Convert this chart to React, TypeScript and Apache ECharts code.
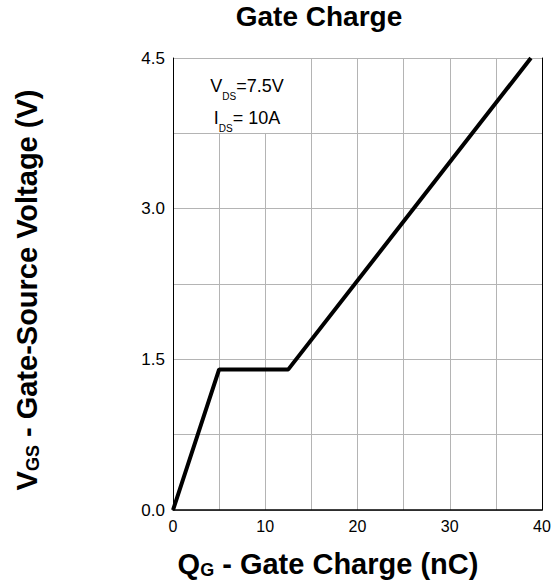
import React, { useEffect, useRef } from "react";
import * as echarts from "echarts";

const chargeNC: number[] = [0, 5, 12.5, 38.8];
const gateVolts: number[] = [0, 1.4, 1.4, 4.5];
const xTickLabels: number[] = [0, 10, 20, 30, 40];
const yTickLabels: number[] = [0, 1.5, 3.0, 4.5];

const FONT = "'Liberation Sans', Arial, Helvetica, sans-serif";

export default function App() {
  const ref = useRef<HTMLDivElement>(null);
  useEffect(() => {
    if (!ref.current) return;
    const chart = echarts.init(ref.current, undefined, { renderer: "svg" });
    const points = chargeNC.map((x, i) => [x, gateVolts[i]]);
    chart.setOption({
      animation: false,
      backgroundColor: "#ffffff",
      textStyle: { fontFamily: FONT },
      grid: { left: 173, right: 13, top: 58, bottom: 72, containLabel: false },
      xAxis: {
        type: "value",
        min: 0,
        max: 40,
        interval: 5,
        axisLine: { show: true, onZero: false, lineStyle: { color: "#000", width: 1.5 } },
        axisTick: { show: false },
        splitLine: { show: true, lineStyle: { color: "#b4b4b4", width: 1 } },
        axisLabel: {
          color: "#000",
          fontSize: 16,
          fontFamily: FONT,
          margin: 8,
          formatter: (v: number) => (xTickLabels.includes(v) ? String(v) : ""),
        },
      },
      yAxis: [
        {
          type: "value",
          min: 0,
          max: 4.5,
          interval: 0.75,
          axisLine: { show: true, onZero: false, lineStyle: { color: "#000", width: 1 } },
          axisTick: { show: false },
          splitLine: { show: true, lineStyle: { color: "#b4b4b4", width: 1 } },
          axisLabel: {
            color: "#000",
            fontSize: 17,
            fontFamily: FONT,
            margin: 8,
            formatter: (v: number) =>
              yTickLabels.some((t) => Math.abs(t - v) < 1e-6) ? v.toFixed(1) : "",
          },
        },
        {
          type: "value",
          position: "right",
          min: 0,
          max: 4.5,
          interval: 0.75,
          axisLine: { show: true, onZero: false, lineStyle: { color: "#000", width: 1 } },
          axisTick: { show: false },
          axisLabel: { show: false },
          splitLine: { show: false },
        },
      ],
      series: [
        {
          type: "line",
          data: points,
          yAxisIndex: 0,
          symbol: "none",
          lineStyle: { color: "#000", width: 4 },
          z: 5,
        },
      ],
      graphic: [
        {
          type: "rect",
          z: 1,
          shape: { x: 203, y: 59, width: 85, height: 74 },
          style: { fill: "#ffffff" },
        },
        {
          type: "text",
          z: 3,
          x: 247,
          y: 70,
          style: {
            text: "{m|V}{s|DS}{m|=7.5V}\n{m|I}{s|DS}{m|= 10A}",
            align: "center",
            verticalAlign: "top",
            fill: "#000",
            rich: {
              m: { fontSize: 18, fontFamily: FONT, lineHeight: 32, fill: "#000", verticalAlign: "middle" },
              s: { fontSize: 10, fontFamily: FONT, lineHeight: 11, fill: "#000", verticalAlign: "bottom", padding: [0, 0, 1, 0] },
            },
          },
        },
        {
          type: "text",
          x: 319,
          y: 16,
          style: {
            text: "Gate Charge",
            align: "center",
            verticalAlign: "middle",
            fontSize: 28,
            fontWeight: "bold",
            fontFamily: FONT,
            fill: "#000",
          },
        },
        {
          type: "text",
          x: 328,
          y: 564,
          style: {
            text: "{m|Q}{s|G}{m| - Gate Charge (nC)}",
            align: "center",
            verticalAlign: "middle",
            fill: "#000",
            rich: {
              m: { fontSize: 29, fontWeight: "bold", fontFamily: FONT, lineHeight: 30, fill: "#000" },
              s: { fontSize: 18, fontWeight: "bold", fontFamily: FONT, lineHeight: 18, fill: "#000", verticalAlign: "bottom" },
            },
          },
        },
        {
          type: "text",
          x: 27,
          y: 290,
          rotation: Math.PI / 2,
          style: {
            text: "{m|V}{s|GS}{m| - Gate-Source Voltage (V)}",
            align: "center",
            verticalAlign: "middle",
            fill: "#000",
            rich: {
              m: { fontSize: 29, fontWeight: "bold", fontFamily: FONT, lineHeight: 30, fill: "#000" },
              s: { fontSize: 18, fontWeight: "bold", fontFamily: FONT, lineHeight: 18, fill: "#000", verticalAlign: "bottom" },
            },
          },
        },
      ],
    });
    return () => chart.dispose();
  }, []);
  return (
    <div
      ref={ref}
      style={{ position: "fixed", left: 0, top: 0, width: 555, height: 582 }}
    />
  );
}
